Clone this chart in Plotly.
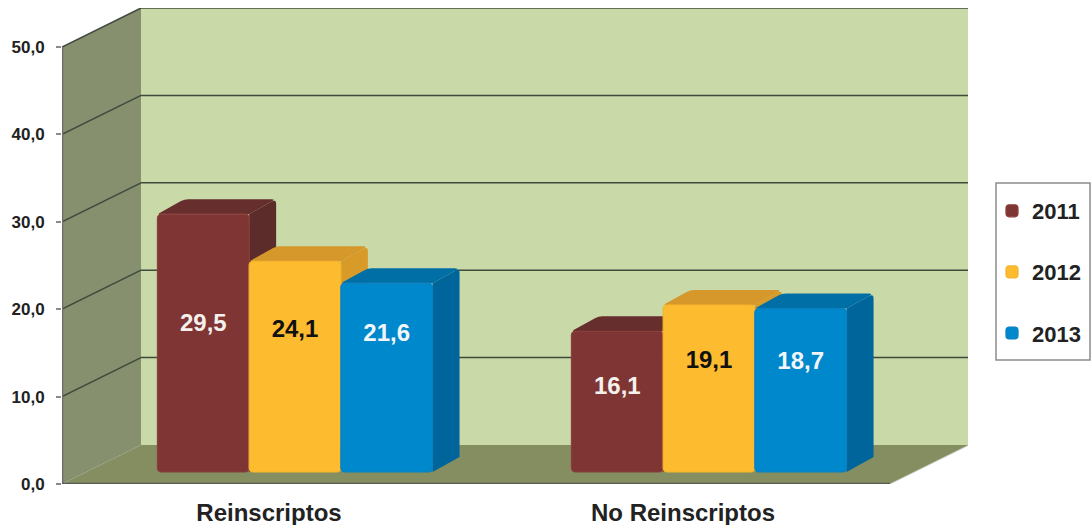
import plotly.graph_objects as go

categories = ["Reinscriptos", "No Reinscriptos"]
years = ["2011", "2012", "2013"]
values_2011 = [29.5, 16.1]
values_2012 = [24.1, 19.1]
values_2013 = [21.6, 18.7]
value_ticks = [0, 10, 20, 30, 40, 50]

series = [values_2011, values_2012, values_2013]

# Styles per series: front, side, top, label colour
FRONT = ["#7E3533", "#FDBB30", "#0088CC"]
EDGE = ["#8A3F3C", "#F5B52C", "#0A80C0"]
SIDE = ["#5C2C2B", "#D89A28", "#00659B"]
TOP = ["#662E2D", "#D6982A", "#006FA6"]
LABEL = ["#F4F0EC", "#111111", "#F2F6FA"]
# Height on the value axis at which each label sits, by series and category
LABEL_AT = [[18.25, 10.95], [17.55, 13.95], [17.0, 13.9]]

# Page geometry
W, H = 1091, 525
L, R, T, B = 62, 968, 8, 484
PX_X = 414.0   # pixels for one category
PX_Y = 8.74    # pixels for one value unit
WALL_DX, WALL_DY = 79 / PX_X, 39 / PX_Y
BAR_W = 0.2215
SHIFT = 0.0628
BASE = 12 / PX_Y
DEPTH_X, DEPTH_Y = 27 / PX_X, 15 / PX_Y
YMAX = (B - T) / PX_Y
XMAX = (R - L) / PX_X


def rounded(points, r_px):
    """SVG path through points (data coords) with corners rounded by r_px."""
    n = len(points)
    parts = []
    for i in range(n):
        x, y = points[i]
        r_ = r_px[i] if isinstance(r_px, list) else r_px
        px, py = points[i - 1]
        nx, ny = points[(i + 1) % n]
        def towards(ax, ay):
            ddx, ddy = (ax - x) * PX_X, (ay - y) * PX_Y
            d = (ddx ** 2 + ddy ** 2) ** 0.5
            t = min(r_ / d, 0.5) if d else 0
            return x + (ax - x) * t, y + (ay - y) * t
        a = towards(px, py)
        b = towards(nx, ny)
        cmd = "M" if i == 0 else "L"
        parts.append(f"{cmd}{a[0]:.5f},{a[1]:.4f} Q{x:.5f},{y:.4f} {b[0]:.5f},{b[1]:.4f}")
    return " ".join(parts) + " Z"


def poly(points, fill, line=None, width=0, r=0):
    return dict(
        type="path", xref="x", yref="y", layer="below",
        path=rounded(points, r), fillcolor=fill,
        line=dict(color=line or fill, width=width),
    )


def seg(x0, y0, x1, y1, color, width):
    return dict(type="line", xref="x", yref="y", layer="below",
                x0=x0, y0=y0, x1=x1, y1=y1, line=dict(color=color, width=width))


shapes = []
# Walls and floor
shapes.append(dict(type="rect", xref="x", yref="y", layer="below",
                   x0=WALL_DX, x1=2 + WALL_DX, y0=WALL_DY, y1=50 + WALL_DY,
                   fillcolor="#C9D9A8", line=dict(width=0)))
shapes.append(poly([(0, 0), (WALL_DX, WALL_DY), (WALL_DX, 50 + WALL_DY), (0, 50)], "#868F6E"))
shapes.append(poly([(0, 0), (2, 0), (2 + WALL_DX, WALL_DY), (WALL_DX, WALL_DY)], "#848E60"))
# Gridlines
for v in value_ticks[1:]:
    shapes.append(seg(0, v, WALL_DX, v + WALL_DY, "#3F4A3A", 1.5))
    shapes.append(seg(WALL_DX, v + WALL_DY, 2 + WALL_DX, v + WALL_DY, "#3F4A3A", 1.5))
shapes.append(seg(2 + WALL_DX, WALL_DY, 2 + WALL_DX, 50 + WALL_DY, "#A9AFA5", 1.5))
shapes.append(seg(2, 0, 2 + WALL_DX, WALL_DY, "#C5CBBE", 1))
shapes.append(seg(0, 0, 0, 50, "#6A6E68", 2.5))
shapes.append(seg(0, 0, 2, 0, "#585C56", 2.5))

# Depth faces of the bars
xs_by_series = []
for i, vals in enumerate(series):
    xs = [c + 0.5 + SHIFT + (i - 1) * BAR_W for c in range(len(categories))]
    xs_by_series.append(xs)
    for xc, v in zip(xs, vals):
        left, right = xc - BAR_W / 2, xc + BAR_W / 2
        top = BASE + v
        shapes.append(poly([(right, BASE), (right + DEPTH_X, BASE + DEPTH_Y),
                            (right + DEPTH_X, top + DEPTH_Y), (right, top)],
                           SIDE[i], r=[0, 0, 5, 0]))
        shapes.append(poly([(left, top), (left + DEPTH_X, top + DEPTH_Y),
                            (right + DEPTH_X, top + DEPTH_Y), (right, top)],
                           TOP[i], r=[3, 4, 5, 0]))

# Legend frame
def fx(px):
    return (px - L) / (R - L)
def fy(px):
    return (B - px) / (B - T)
shapes.append(dict(type="rect", xref="paper", yref="paper", layer="above",
                   x0=fx(996), x1=fx(1090), y0=fy(360), y1=fy(183),
                   fillcolor="rgba(0,0,0,0)", line=dict(color="#8C8C8C", width=1.5)))

fig = go.Figure()
for i, (year, vals) in enumerate(zip(years, series)):
    fig.add_trace(go.Bar(
        name=year, x=xs_by_series[i], y=vals, base=BASE, width=BAR_W,
        marker=dict(color=FRONT[i], line=dict(color=EDGE[i], width=1.2), cornerradius=4),
        legendgroup=year,
    ))
for i, vals in enumerate(series):
    fig.add_trace(go.Scatter(
        x=xs_by_series[i], y=LABEL_AT[i], mode="text",
        text=[f"{v:.1f}".replace(".", ",") for v in vals],
        textposition="middle center",
        textfont=dict(family="Liberation Sans", size=24, color=LABEL[i], weight=700),
        showlegend=False, hoverinfo="skip",
    ))

fig.update_layout(
    width=W, height=H, autosize=False,
    margin=dict(l=L, r=W - R, t=T, b=H - B, pad=0, autoexpand=False),
    paper_bgcolor="white", plot_bgcolor="rgba(0,0,0,0)",
    barmode="overlay", separators=",.",
    shapes=shapes, showlegend=True,
    font=dict(family="Liberation Sans", color="#222222"),
    legend=dict(
        x=fx(992), xanchor="left", y=fy(190), yanchor="top",
        bgcolor="rgba(0,0,0,0)", borderwidth=0,
        tracegroupgap=29.5, traceorder="grouped",
        font=dict(family="Liberation Sans", size=22, color="#222222", weight=700),
    ),
    xaxis=dict(
        range=[0, XMAX], showgrid=False, zeroline=False, showline=False,
        tickmode="array", tickvals=[c + 0.5 for c in range(len(categories))],
        ticktext=categories, ticks="outside", ticklen=7, tickcolor="rgba(0,0,0,0)",
        tickfont=dict(family="Liberation Sans", size=24, color="#222222", weight=700),
    ),
    yaxis=dict(
        range=[0, YMAX], showgrid=False, zeroline=False, showline=False,
        tickmode="array", tickvals=value_ticks, tickformat=".1f",
        ticks="outside", ticklen=5, tickcolor="#8A8A8A", tickwidth=1.5,
        ticklabelstandoff=8,
        tickfont=dict(family="Liberation Sans", size=17, color="#222222", weight=700),
    ),
)

fig.write_html(
    "out.html",
    config={"displayModeBar": False},
    post_script="document.documentElement.style.margin='0';document.body.style.margin='0';",
)
